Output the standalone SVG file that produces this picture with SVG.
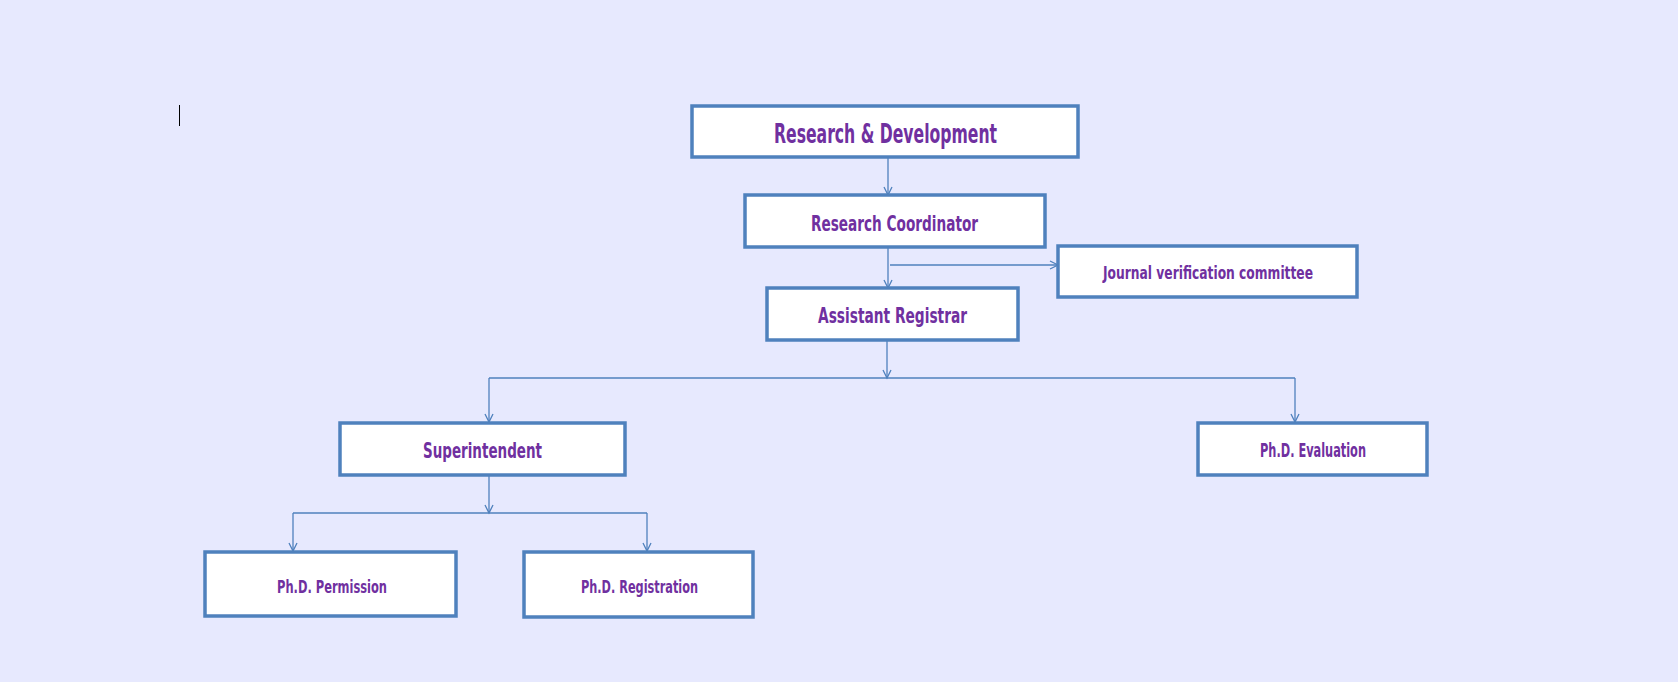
<svg xmlns="http://www.w3.org/2000/svg" width="1678" height="682" viewBox="0 0 1678 682">
<style>
.box{fill:#ffffff;stroke:#4f81bd;stroke-width:3.5}
.lbl{fill:#7030a0;font-family:"Liberation Sans Narrow","DejaVu Sans Condensed","Liberation Sans",sans-serif;font-weight:bold;text-anchor:middle}
.con{fill:none;stroke:#4f81bd;stroke-width:1.3}
</style>
<defs>
<marker id="ah" markerUnits="userSpaceOnUse" markerWidth="12" markerHeight="12" refX="9" refY="5" orient="auto">
<path d="M1,1 L9,5 L1,9" fill="none" stroke="#4f81bd" stroke-width="1.3"/>
</marker>
</defs>
<rect width="1678" height="682" fill="#e7e9fe"/>
<line x1="179.5" y1="105" x2="179.5" y2="126" stroke="#000" stroke-width="1"/>
<g id="connectors">
<path class="con" d="M888,157 V195" marker-end="url(#ah)"/>
<path class="con" d="M888,247 V288" marker-end="url(#ah)"/>
<path class="con" d="M890,265 H1058" marker-end="url(#ah)"/>
<path class="con" d="M887,340 V378" marker-end="url(#ah)"/>
<path class="con" d="M489,378 H1295"/>
<path class="con" d="M489,378 V422" marker-end="url(#ah)"/>
<path class="con" d="M1295,378 V422" marker-end="url(#ah)"/>
<path class="con" d="M489,476 V513" marker-end="url(#ah)"/>
<path class="con" d="M293,513 H647"/>
<path class="con" d="M293,513 V551" marker-end="url(#ah)"/>
<path class="con" d="M647,513 V551" marker-end="url(#ah)"/>
</g>
<g id="rd">
<rect class="box" x="692" y="106" width="386" height="51"/>
<text class="lbl" x="885.5" y="143" font-size="26" textLength="223" lengthAdjust="spacingAndGlyphs">Research &amp; Development</text>
</g>
<g id="rc">
<rect class="box" x="745" y="195" width="300" height="52"/>
<text class="lbl" x="894.5" y="231" font-size="22" textLength="167" lengthAdjust="spacingAndGlyphs">Research Coordinator</text>
</g>
<g id="jvc">
<rect class="box" x="1058" y="246" width="299" height="51"/>
<text class="lbl" x="1208" y="279" font-size="18" textLength="210" lengthAdjust="spacingAndGlyphs">Journal verification committee</text>
</g>
<g id="ar">
<rect class="box" x="767" y="288" width="251" height="52"/>
<text class="lbl" x="892.5" y="323" font-size="22" textLength="149" lengthAdjust="spacingAndGlyphs">Assistant Registrar</text>
</g>
<g id="sup">
<rect class="box" x="340" y="423" width="285" height="52"/>
<text class="lbl" x="482.5" y="458" font-size="21" textLength="119" lengthAdjust="spacingAndGlyphs">Superintendent</text>
</g>
<g id="eval">
<rect class="box" x="1198" y="423" width="229" height="52"/>
<text class="lbl" x="1313" y="457" font-size="19" textLength="106" lengthAdjust="spacingAndGlyphs">Ph.D. Evaluation</text>
</g>
<g id="perm">
<rect class="box" x="205" y="552" width="251" height="64"/>
<text class="lbl" x="332" y="593" font-size="18" textLength="110" lengthAdjust="spacingAndGlyphs">Ph.D. Permission</text>
</g>
<g id="reg">
<rect class="box" x="524" y="552" width="229" height="65"/>
<text class="lbl" x="639.5" y="593" font-size="18" textLength="117" lengthAdjust="spacingAndGlyphs">Ph.D. Registration</text>
</g>
</svg>
